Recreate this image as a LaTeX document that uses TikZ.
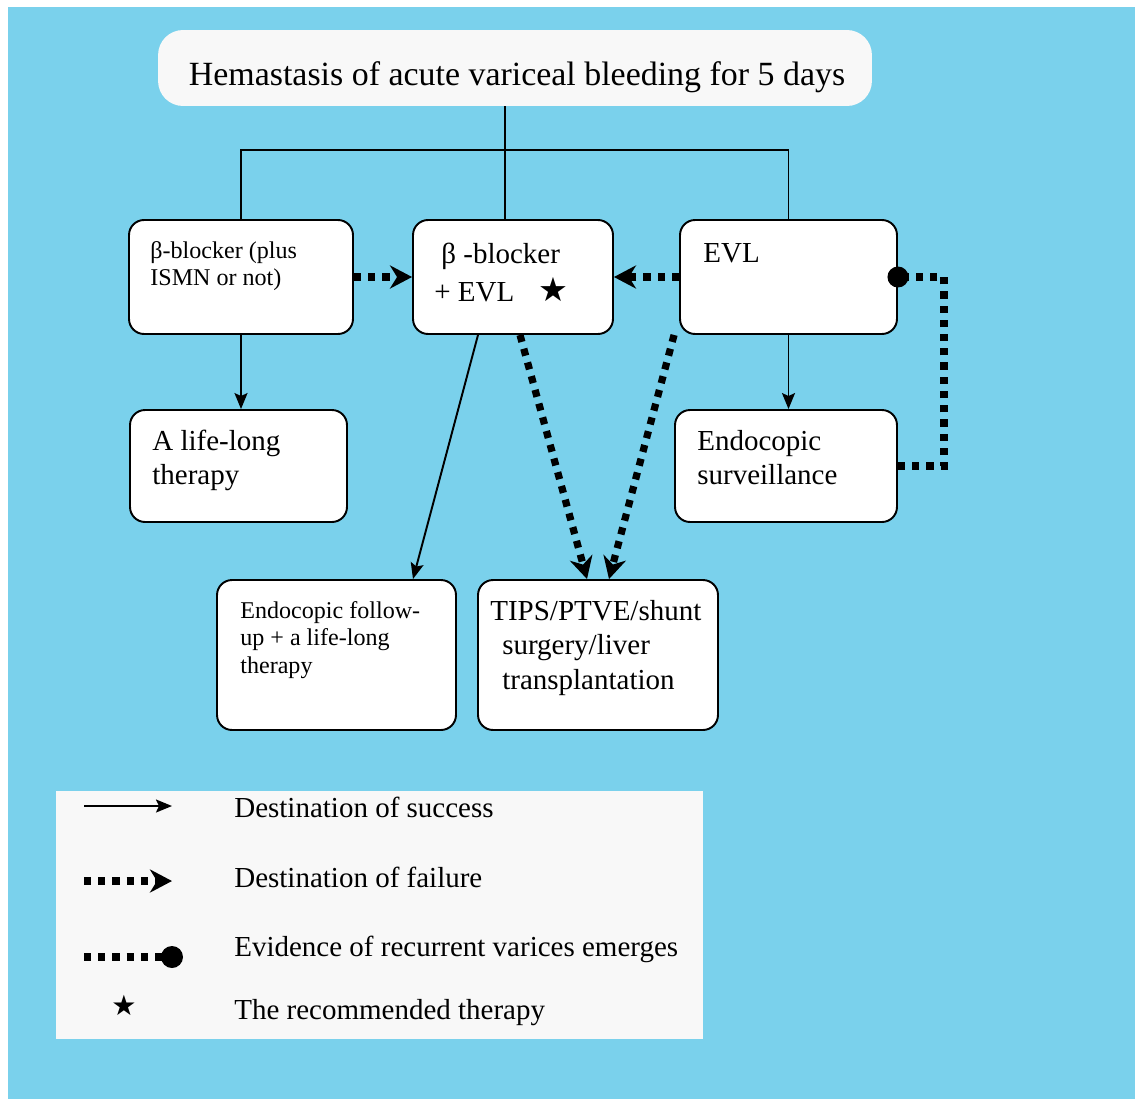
\documentclass[tikz,border=0pt]{standalone}
\usepackage{fontspec}
\setmainfont{Liberation Serif}
\newfontfamily\starfont{DejaVu Sans}
\usetikzlibrary{arrows.meta}
\definecolor{skyblue}{RGB}{122,209,236}
\definecolor{paperwhite}{RGB}{248,248,248}

\begin{document}
\begin{tikzpicture}[x=0.02cm, y=-0.02cm,
  box/.style={draw=black, line width=1.1pt, fill=white, rounded corners=0.3cm, inner sep=0pt},
  txt/.style={anchor=north west, inner sep=0pt, align=left},
  bigfont/.style={font=\fontsize{16.5}{19.4}\selectfont},
  smallfont/.style={font=\fontsize{13.7}{15.6}\selectfont},
  succ/.style={line width=1.1pt, -{Stealth[length=0.32cm, width=0.26cm, inset=0.06cm]}},
  fail/.style={line width=4.1pt, dash pattern=on 4.1pt off 4pt, -{Stealth[length=0.44cm, width=0.46cm, inset=0.14cm]}},
  recur/.style={line width=4.1pt, dash pattern=on 4.1pt off 4pt}]

% 배경
\useasboundingbox (0,0) rectangle (1135,1099);
\fill[white] (0,0) rectangle (1135,1099);
\fill[skyblue] (8,7) rectangle (1135,1099);

% 제목 상자
\node[fill=paperwhite, rounded corners=0.5cm, minimum width=14.28cm, minimum height=1.52cm, inner sep=0pt] (top) at (515,68) {};
\node[anchor=base, inner sep=0pt, font=\fontsize{19.3}{23}\selectfont] (toptxt) at (517,85) {Hemastasis of acute variceal bleeding for 5 days};

% 첫 줄 상자
\node[box, minimum width=4.48cm, minimum height=2.28cm] (bb) at (241,277) {};
\node[box, minimum width=4.0cm, minimum height=2.28cm] (bbevl) at (513,277) {};
\node[box, minimum width=4.34cm, minimum height=2.28cm] (evl) at (788.5,277) {};
\node[txt, smallfont] (bbtxt) at (150,241) {β-blocker (plus\\ISMN or not)};
\node[txt, bigfont] (bbevltxt) at (434,243) {\hspace{4pt}β -blocker\\[2.2pt]+ EVL\hspace{14pt}{\starfont\fontsize{19}{19}\selectfont ★}};
\node[txt, bigfont] (evltxt) at (703,243) {EVL};

% 둘째 줄 상자
\node[box, minimum width=4.34cm, minimum height=2.24cm] (life) at (238.5,466) {};
\node[box, minimum width=4.44cm, minimum height=2.24cm] (surv) at (786,466) {};
\node[txt, bigfont] (lifetxt) at (152,430) {A life-long\\therapy};
\node[txt, bigfont] (survtxt) at (697,430) {Endocopic\\surveillance};

% 셋째 줄 상자
\node[box, minimum width=4.78cm, minimum height=3.0cm] (follow) at (336.5,655) {};
\node[box, minimum width=4.8cm, minimum height=3.0cm] (tips) at (598,655) {};
\node[txt, smallfont] (followtxt) at (240,601) {Endocopic follow-\\up + a life-long\\therapy};
\node[txt, font=\fontsize{16.5}{19.6}\selectfont] (tipstxt) at (490,600) {TIPS/PTVE/shunt\\\hspace{6.8pt}surgery/liver\\\hspace{6.8pt}transplantation};

% 가지선
\coordinate (trunk) at ([xshift=-0.16cm]bbevl.north);
\coordinate (bus) at (0,150);
\draw[line width=1.1pt] (trunk) -- (trunk |- top.south);
\draw[line width=1.1pt] (bb.north) -- (bb.north |- bus) -- (evl.north |- bus) -- (evl.north);

% 성공
\draw[succ] (bb.south) -- (bb.south |- life.north);
\draw[succ] (evl.south) -- (evl.south |- surv.north);
\draw[succ] ([xshift=-0.7cm]bbevl.south) -- ([xshift=1.53cm]follow.north);

% 실패
\draw[fail] (bb.east) -- (bbevl.west);
\draw[fail] (evl.west) -- (bbevl.east);
\draw[fail] ([xshift=0.14cm]bbevl.south) -- ([xshift=-0.22cm]tips.north);
\draw[fail] ([xshift=-0.1cm]evl.south west) -- ([xshift=0.22cm]tips.north);

% 재발
\draw[recur] (surv.east) -- ++(46,0) |- (evl.east);
\fill (evl.east) circle (0.21cm);

% 범례
\node[fill=paperwhite, minimum width=12.94cm, minimum height=4.96cm, inner sep=0pt] (legend) at (379.5,915) {};
\coordinate (s1) at (84,806);
\coordinate (s2) at (172,806);
\coordinate (f1) at (84,881);
\coordinate (f2) at (172,881);
\coordinate (r1) at (84,957);
\coordinate (r2) at (172,957);
\draw[succ] (s1) -- (s2);
\draw[fail] (f1) -- (f2);
\draw[recur] (r1) -- (r2);
\fill (r2) circle (0.22cm);
\node[inner sep=0pt, font=\starfont\fontsize{16}{16}\selectfont] (lgstar) at (124,1005) {★};
\node[anchor=base west, inner sep=0pt, bigfont] (lgsucc) at (234,817) {Destination of success};
\node[anchor=base west, inner sep=0pt, bigfont] (lgfail) at (234,887) {Destination of failure};
\node[anchor=base west, inner sep=0pt, bigfont] (lgrecur) at (234,956) {Evidence of recurrent varices emerges};
\node[anchor=base west, inner sep=0pt, bigfont] (lgstartxt) at (234,1019) {The recommended therapy};

\end{tikzpicture}
\end{document}
